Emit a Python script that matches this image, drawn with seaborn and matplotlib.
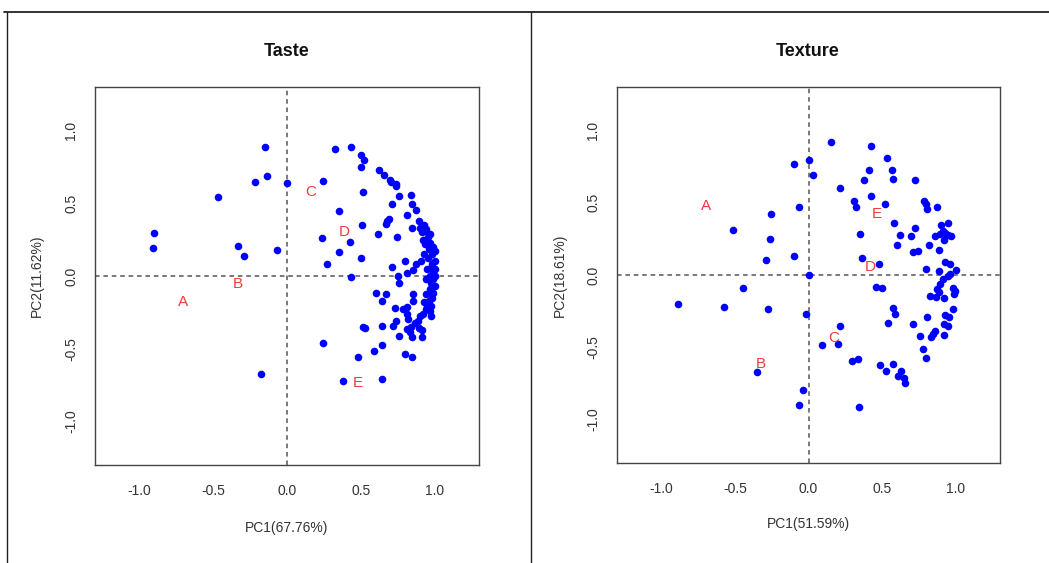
import matplotlib
matplotlib.use("Agg")
import matplotlib.pyplot as plt
import seaborn as sns
import pandas as pd
from matplotlib.lines import Line2D

# ---------------- data ----------------
taste_x = [-0.149, -0.137, -0.22, 0.00, -0.468, -0.903, -0.907, -0.333, -0.288, -0.07,
           -0.176, 0.324, 0.43, 0.5, 0.52, 0.5, 0.245, 0.62, 0.655, 0.696,
           0.707, 0.736, 0.741, 0.516, 0.755, 0.838, 0.714, 0.849, 0.876, 0.353,
           0.813, 0.678, 0.69, 0.509, 0.669, 0.894, 0.926, 0.849, 0.236, 0.426,
           0.617, 0.748, 0.353, 0.498, 0.268, 0.714, 0.8, 0.43, 0.752, 0.917,
           0.955, 0.966, 0.932, 0.96, 0.984, 0.955, 1.0, 0.91, 0.876, 0.81,
           0.854, 0.977, 0.989, 0.76, 0.944, 0.977, 0.966, 0.944, 0.669, 0.64,
           0.854, 0.854, 0.96, 0.977, 0.73, 0.786, 0.81, 0.944, 0.966, 0.81,
           0.82, 0.9, 0.92, 0.977, 0.887, 0.865, 0.64, 0.72, 0.736, 0.81,
           0.84, 0.894, 0.917, 0.76, 0.849, 0.917, 0.836, 0.644, 0.797, 0.849,
           0.6, 0.516, 0.527, 0.245, 0.588, 0.484, 0.376, 0.644, 0.944, 0.94,
           0.97, 0.99, 1.0, 0.98, 1.0, 1.0, 0.99, 1.0, 0.99, 0.98,
           0.93, 0.95, 0.97, 0.95, 0.93, 0.92, 0.9]
taste_y = [0.89, 0.685, 0.646, 0.64, 0.54, 0.297, 0.19, 0.203, 0.14, 0.178,
           -0.676, 0.875, 0.888, 0.833, 0.80, 0.753, 0.655, 0.728, 0.696, 0.662,
           0.65, 0.635, 0.62, 0.575, 0.548, 0.56, 0.498, 0.495, 0.457, 0.445,
           0.418, 0.381, 0.392, 0.354, 0.358, 0.381, 0.349, 0.331, 0.262, 0.233,
           0.286, 0.267, 0.162, 0.125, 0.082, 0.062, 0.103, -0.01, 0.0, 0.303,
           0.267, 0.228, 0.217, 0.183, 0.148, 0.125, 0.103, 0.103, 0.08, 0.023,
           0.039, 0.057, 0.023, -0.046, -0.023, -0.046, -0.091, -0.126, -0.126, -0.17,
           -0.126, -0.171, -0.171, -0.205, -0.217, -0.228, -0.212, -0.228, -0.24, -0.263,
           -0.297, -0.274, -0.263, -0.274, -0.308, -0.32, -0.343, -0.343, -0.308, -0.365,
           -0.35, -0.36, -0.372, -0.41, -0.42, -0.42, -0.388, -0.473, -0.536, -0.555,
           -0.114, -0.354, -0.358, -0.463, -0.518, -0.555, -0.719, -0.708, 0.32, 0.31,
           0.29, 0.2, 0.17, 0.08, 0.05, 0.0, -0.02, -0.07, -0.12, -0.15,
           -0.18, -0.2, 0.0, 0.05, 0.15, 0.25, 0.33]

texture_x = [-0.1, 0.005, 0.032, -0.063, -0.256, -0.515, -0.258, -0.29, -0.1, 0.0,
             -0.447, -0.888, -0.574, -0.278, -0.014, -0.353, -0.036, -0.066, 0.156, 0.422,
             0.531, 0.411, 0.567, 0.378, 0.574, 0.725, 0.217, 0.427, 0.31, 0.325,
             0.517, 0.782, 0.8, 0.802, 0.875, 0.581, 0.725, 0.348, 0.624, 0.694,
             0.902, 0.947, 0.913, 0.89, 0.924, 0.947, 0.969, 0.861, 0.92, 0.599,
             0.818, 0.71, 0.744, 0.886, 0.366, 0.477, 0.929, 0.958, 0.8, 0.883,
             1.003, 0.958, 0.947, 0.913, 0.89, 0.875, 0.883, 0.981, 0.997, 0.988,
             0.502, 0.461, 0.823, 0.868, 0.92, 0.574, 0.59, 0.981, 0.924, 0.951,
             0.807, 0.54, 0.71, 0.92, 0.947, 0.856, 0.845, 0.834, 0.755, 0.92,
             0.778, 0.8, 0.217, 0.201, 0.093, 0.292, 0.337, 0.488, 0.524, 0.574,
             0.608, 0.631, 0.649, 0.658, 0.341]
texture_y = [0.765, 0.797, 0.69, 0.473, 0.42, 0.313, 0.249, 0.103, 0.13, 0.0,
             -0.087, -0.2, -0.219, -0.235, -0.269, -0.673, -0.795, -0.897, 0.918, 0.895,
             0.808, 0.724, 0.726, 0.655, 0.666, 0.655, 0.605, 0.548, 0.511, 0.473,
             0.491, 0.514, 0.491, 0.457, 0.473, 0.363, 0.324, 0.286, 0.274, 0.267,
             0.347, 0.358, 0.306, 0.283, 0.29, 0.279, 0.267, 0.267, 0.245, 0.21,
             0.21, 0.16, 0.164, 0.171, 0.119, 0.073, 0.089, 0.077, 0.039, 0.027,
             0.034, 0.009, -0.007, -0.03, -0.064, -0.098, -0.121, -0.087, -0.11, -0.128,
             -0.087, -0.082, -0.144, -0.151, -0.16, -0.228, -0.269, -0.235, -0.274, -0.288,
             -0.292, -0.333, -0.338, -0.342, -0.356, -0.384, -0.411, -0.429, -0.425, -0.418,
             -0.509, -0.573, -0.354, -0.475, -0.486, -0.596, -0.584, -0.623, -0.662, -0.612,
             -0.699, -0.662, -0.714, -0.744, -0.913]

group_labels = ["A", "B", "C", "D", "E"]
taste_lab_x = [-0.705, -0.333, 0.162, 0.385, 0.482]
taste_lab_y = [-0.18, -0.057, 0.577, 0.301, -0.735]
texture_lab_x = [-0.696, -0.325, 0.174, 0.416, 0.461]
texture_lab_y = [0.48, -0.612, -0.436, 0.055, 0.42]

tick_vals = [-1.0, -0.5, 0.0, 0.5, 1.0]
tick_labels = ["-1.0", "-0.5", "0.0", "0.5", "1.0"]

panel_titles = ["Taste", "Texture"]
pc1_labels = ["PC1(67.76%)", "PC1(51.59%)"]
pc2_labels = ["PC2(11.62%)", "PC2(18.61%)"]

# ---------------- style ----------------
sns.set_style("white")
plt.rcParams['font.family'] = ['Liberation Sans Narrow', 'Liberation Sans', 'DejaVu Sans']

W, H = 1049, 563
fig = plt.figure(figsize=(W / 100, H / 100), dpi=100)

def fx(px):
    return px / W

def fy(py):
    return 1 - py / H

ax1 = fig.add_axes([fx(95), fy(465), fx(479) - fx(95), fy(87) - fy(465)])
ax2 = fig.add_axes([fx(617), fy(463), fx(1000) - fx(617), fy(87) - fy(463)])

panels = [
    (ax1, taste_x, taste_y, taste_lab_x, taste_lab_y),
    (ax2, texture_x, texture_y, texture_lab_x, texture_lab_y),
]

for i, (ax, xs, ys, lx, ly) in enumerate(panels):
    df = pd.DataFrame({"PC1": xs, "PC2": ys})
    ax.axvline(0, color="#555555", lw=1.1, ls=(0, (3, 2.5)), zorder=1)
    ax.axhline(0, color="#555555", lw=1.1, ls=(0, (3, 2.5)), zorder=1)
    sns.scatterplot(data=df, x="PC1", y="PC2", ax=ax, color="#0000ff",
                    s=30, linewidth=0, legend=False, zorder=3)
    for lab, xx, yy in zip(group_labels, lx, ly):
        ax.text(xx, yy, lab, color="#ee3b3b", fontsize=11, ha="center",
                va="center", zorder=4)
    ax.set_xlim(-1.3, 1.3)
    ax.set_ylim(-1.3, 1.3)
    ax.set_xticks(tick_vals)
    ax.set_xticklabels(tick_labels)
    ax.set_yticks(tick_vals)
    ax.set_yticklabels(tick_labels, rotation=90, va="center")
    ax.tick_params(axis="both", direction="out", length=6, width=1,
                   color="#444444", labelsize=10, labelcolor="#333333", pad=8)
    ax.tick_params(axis="y", pad=6)
    for sp in ax.spines.values():
        sp.set_color("#444444")
        sp.set_linewidth(1.0)
    ax.set_xlabel(pc1_labels[i], fontsize=10, color="#333333")
    ax.set_ylabel(pc2_labels[i], fontsize=10, color="#333333")
    ax.xaxis.label.set_va("center")
    ax.yaxis.label.set_va("center")

ax1.xaxis.set_label_coords(0.5, (465 - 528) / 378)
ax1.yaxis.set_label_coords((37 - 95) / 384, 0.5)
ax2.xaxis.set_label_coords(0.5, (463 - 524) / 376)
ax2.yaxis.set_label_coords((560 - 617) / 383, 0.5)

fig.text(fx(287), fy(51), panel_titles[0], ha="center", va="center",
         fontsize=13, fontweight="bold", color="#111111")
fig.text(fx(808), fy(51), panel_titles[1], ha="center", va="center",
         fontsize=13, fontweight="bold", color="#111111")

# outer table-like frame
lc = "#222222"
fig.add_artist(Line2D([fx(4), 1.0], [fy(12), fy(12)], transform=fig.transFigure, color=lc, lw=1.3))
fig.add_artist(Line2D([fx(7), fx(7)], [0.0, fy(12)], transform=fig.transFigure, color=lc, lw=1.0))
fig.add_artist(Line2D([fx(531), fx(531)], [0.0, fy(12)], transform=fig.transFigure, color=lc, lw=1.0))

fig.savefig("out.png", dpi=100)
